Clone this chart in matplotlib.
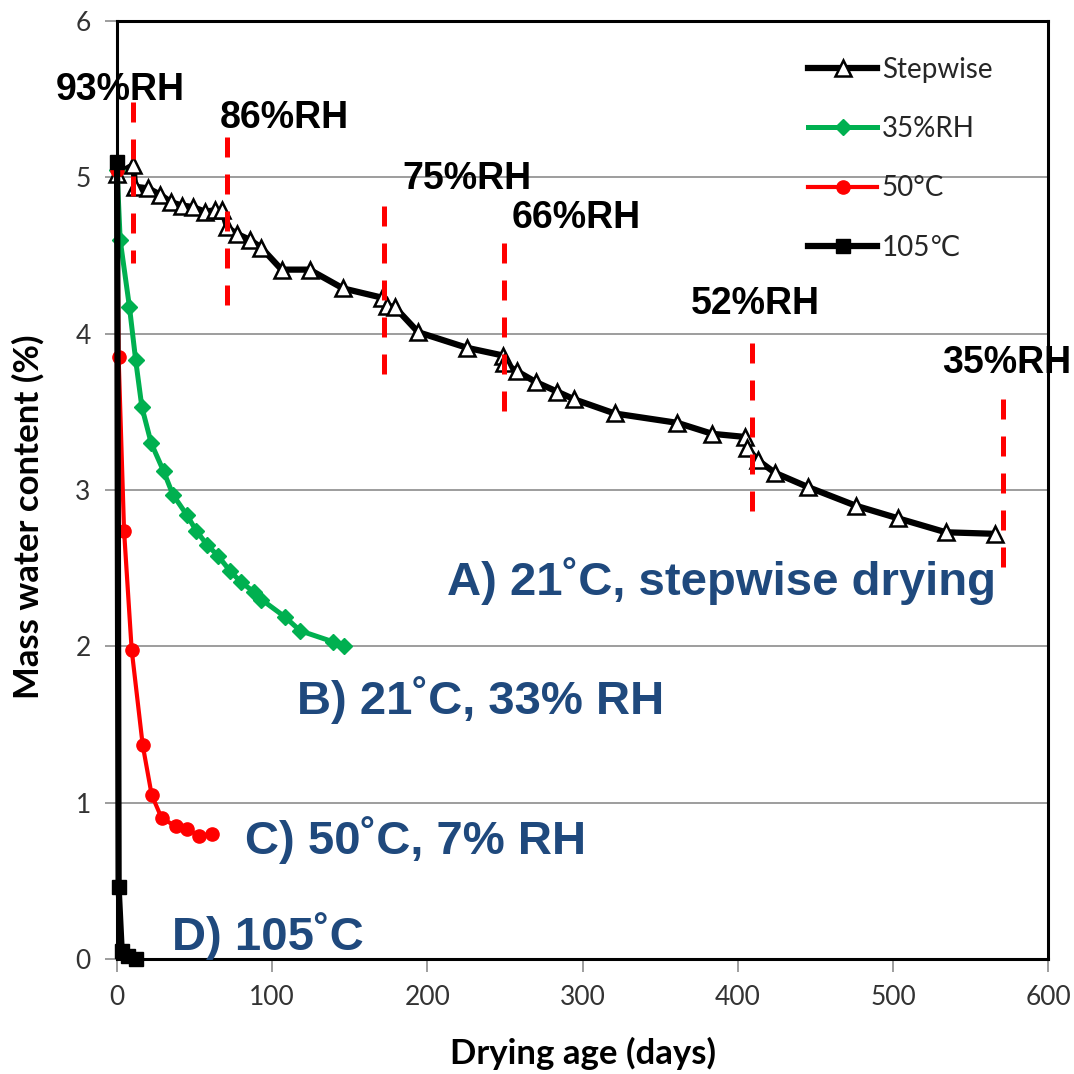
import matplotlib.pyplot as plt
import numpy as np

# drying curves: mass water content (%) vs drying age (days)
step_days = [0, 10.5, 11.6, 20, 27.7, 35, 42, 49, 56.7, 63, 67.6, 71, 77, 85.7, 93,
             106, 124, 145.6, 171, 174, 179, 194, 225.5, 249, 249.5, 257.7, 270,
             283.5, 294.7, 320.6, 361, 383.4, 404.4, 405.7, 413, 424, 445, 476,
             503, 534, 566]
step_mwc = [5.02, 5.08, 4.94, 4.93, 4.89, 4.84, 4.82, 4.81, 4.78, 4.79, 4.79, 4.68,
            4.64, 4.60, 4.55, 4.41, 4.41, 4.29, 4.23, 4.18, 4.17, 4.01, 3.91, 3.86,
            3.81, 3.76, 3.69, 3.63, 3.58, 3.49, 3.43, 3.36, 3.34, 3.27, 3.19, 3.11,
            3.02, 2.90, 2.82, 2.73, 2.72]

rh35_days = [0, 2, 8, 12, 16, 22, 30, 36, 45, 51, 58, 65, 73, 80, 88, 93, 108, 118,
             139, 146]
rh35_mwc = [5.05, 4.60, 4.17, 3.83, 3.53, 3.30, 3.12, 2.97, 2.84, 2.74, 2.65, 2.58,
            2.48, 2.41, 2.35, 2.30, 2.19, 2.10, 2.03, 2.00]

t50_days = [0, 1, 4.5, 9.4, 16.5, 22.3, 28.8, 38, 45, 53, 61]
t50_mwc = [5.05, 3.85, 2.74, 1.98, 1.37, 1.05, 0.90, 0.85, 0.83, 0.79, 0.80]

t105_days = [0, 1, 3, 7, 12]
t105_mwc = [5.1, 0.46, 0.05, 0.02, 0.0]

# RH change steps of the stepwise drying
rh_labels = ['93%RH', '86%RH', '75%RH', '66%RH', '52%RH', '35%RH']
rh_days = [10.3, 71, 172, 249.5, 409, 571]
rh_top = [5.48, 5.26, 4.82, 4.58, 3.94, 3.58]
rh_bottom = [4.45, 4.18, 3.74, 3.49, 2.86, 2.49]

cond_labels = ['A) 21˚C, stepwise drying', 'B) 21˚C, 33% RH',
               'C) 50˚C, 7% RH', 'D) 105˚C']

fig = plt.figure(figsize=(10.74, 10.74), dpi=100)
ax = fig.add_axes([0.109, 0.107, 0.867, 0.8734])

ax.grid(axis='y', color='#8c8c8c', lw=1.2)
ax.set_axisbelow(True)

ax.plot(step_days, step_mwc, color='black', lw=4.5, marker='^', ms=11,
        mfc='white', mec='black', mew=1.8, label='Stepwise', clip_on=False, zorder=3)
ax.plot(rh35_days, rh35_mwc, color='#00b050', lw=3.6, marker='D', ms=8,
        mec='#00b050', label='35%RH', clip_on=False, zorder=4)
ax.plot(t50_days, t50_mwc, color='red', lw=3, marker='o', ms=9.5,
        mec='red', label='50°C', clip_on=False, zorder=5)
ax.plot(t105_days, t105_mwc, color='black', lw=4.5, marker='s', ms=10,
        label='105℃', clip_on=False, zorder=6)

for d, top, bot in zip(rh_days, rh_top, rh_bottom):
    ax.plot([d, d], [top, bot], color='red', lw=3.6, dashes=(4, 3.4),
            solid_capstyle='butt', dash_capstyle='butt', clip_on=False, zorder=7)

rh_label_x = [2, 108, 225.5, 296, 411, 573]
rh_label_y = [5.56, 5.38, 4.99, 4.74, 4.19, 3.81]
for txt, x, y in zip(rh_labels, rh_label_x, rh_label_y):
    ax.text(x, y, txt, ha='center', va='center', fontsize=27, fontweight='bold',
            family='Liberation Sans', color='black', clip_on=False, zorder=8)

cond_x = [212.6, 116, 82.5, 35.4]
cond_y = [2.42, 1.66, 0.76, 0.15]
for txt, x, y in zip(cond_labels, cond_x, cond_y):
    ax.text(x, y, txt, ha='left', va='center', fontsize=34, fontweight='bold',
            family='Liberation Sans', color='#1f497d', zorder=8)

ax.set_xlim(0, 600)
ax.set_ylim(0, 6)
ax.set_xticks(np.arange(0, 601, 100))
ax.set_yticks(np.arange(0, 7, 1))
ax.tick_params(axis='both', direction='out', length=9, width=1.2, color='#8c8c8c',
               labelsize=19, labelcolor='#333333', pad=10)
for lab in ax.get_xticklabels() + ax.get_yticklabels():
    lab.set_family('Lato')

for side in ['top', 'right', 'bottom', 'left']:
    ax.spines[side].set_linewidth(2.2)
    ax.spines[side].set_color('black')

ax.set_xlabel('Drying age (days)', fontsize=25, fontweight='bold', family='Lato',
              va='center')
ax.set_ylabel('Mass water content (%)', fontsize=25, fontweight='bold', family='Lato')
ax.xaxis.set_label_coords(0.5, -0.101)
ax.yaxis.set_label_coords(-0.078, 0.472)

leg = ax.legend(loc='upper left', bbox_to_anchor=(0.742, 0.962), frameon=False,
                handlelength=2.5, handletextpad=0.15, labelspacing=1.2,
                borderaxespad=0, borderpad=0,
                prop={'family': ['Lato', 'DejaVu Sans'], 'size': 20})
for t in leg.get_texts():
    t.set_color('#262626')

fig.savefig('out.png', dpi=100)
